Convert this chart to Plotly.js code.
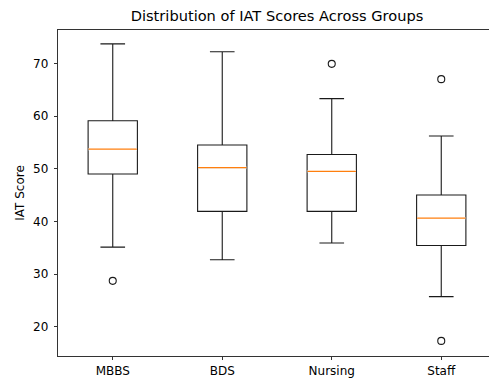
<!DOCTYPE html>
<html>
<head>
<meta charset="utf-8">
<script src="https://cdn.plot.ly/plotly-3.0.1.min.js"></script>
<style>
html, body { margin: 0; padding: 0; overflow: hidden; background: #fff; }
#chart { width: 497px; height: 380px; }
</style>
</head>
<body>
<div id="chart"></div>
<script>
// Data
const groups = ["MBBS", "BDS", "Nursing", "Staff"];
const lowerWhisker = [35.1, 32.7, 35.9, 25.7];
const q1Values = [49.0, 41.9, 41.9, 35.4];
const medianValues = [53.7, 50.2, 49.5, 40.6];
const q3Values = [59.1, 54.5, 52.7, 45.0];
const upperWhisker = [73.7, 72.2, 63.3, 56.2];
const outlierGroup = ["MBBS", "Nursing", "Staff", "Staff"];
const outlierValues = [28.7, 69.9, 67.0, 17.3];

const positions = groups.map((g, i) => i + 1);
const boxWidth = 0.45;

const boxTrace = {
  type: "box",
  x: positions,
  q1: q1Values,
  median: medianValues,
  q3: q3Values,
  lowerfence: lowerWhisker,
  upperfence: upperWhisker,
  width: boxWidth,
  whiskerwidth: 0.5,
  boxpoints: false,
  fillcolor: "rgba(255,255,255,0)",
  line: { color: "#1a1a1a", width: 1.1 },
  hoverinfo: "skip",
  showlegend: false
};

const medX = [], medY = [];
positions.forEach((p, i) => {
  medX.push(p - boxWidth / 2 + 0.004, p + boxWidth / 2 - 0.004, null);
  medY.push(medianValues[i], medianValues[i], null);
});
const medianMask = {
  type: "scatter",
  mode: "lines",
  x: medX,
  y: medY,
  line: { color: "#ffffff", width: 2.4 },
  hoverinfo: "skip",
  showlegend: false
};
const medianTrace = {
  type: "scatter",
  mode: "lines",
  x: medX,
  y: medY,
  line: { color: "#ff7f0e", width: 1.2 },
  hoverinfo: "skip",
  showlegend: false
};

const outlierTrace = {
  type: "scatter",
  mode: "markers",
  x: outlierGroup.map(g => groups.indexOf(g) + 1),
  y: outlierValues,
  marker: { symbol: "circle-open", size: 7, color: "#1a1a1a", line: { width: 1.1, color: "#1a1a1a" } },
  hoverinfo: "skip",
  showlegend: false
};

const font = "DejaVu Sans, sans-serif";
const layout = {
  width: 497,
  height: 380,
  margin: { l: 57.5, r: 1, t: 30, b: 24 },
  paper_bgcolor: "#ffffff",
  plot_bgcolor: "#ffffff",
  font: { family: font, size: 12, color: "#000000" },
  title: {
    text: "Distribution of IAT Scores Across Groups",
    font: { family: font, size: 14.6, color: "#000000" },
    x: 0.5, xref: "paper",
    y: 1 - 16 / 380, yref: "container", yanchor: "middle"
  },
  xaxis: {
    range: [0.5, 4.5],
    tickvals: positions,
    ticktext: groups,
    ticks: "outside", ticklen: 3.5, tickwidth: 0.8, tickcolor: "#000",
    showline: true, mirror: true, linecolor: "#000", linewidth: 0.8,
    showgrid: false, zeroline: false,
    tickfont: { family: font, size: 12, color: "#000" }
  },
  yaxis: {
    range: [14.43, 76.33],
    tickvals: [20, 30, 40, 50, 60, 70],
    ticks: "outside", ticklen: 3.5, tickwidth: 0.8, tickcolor: "#000",
    showline: true, mirror: true, linecolor: "#000", linewidth: 0.8,
    showgrid: false, zeroline: false,
    tickfont: { family: font, size: 12, color: "#000" },
    ticklabelstandoff: 3,
    title: { text: "IAT Score", font: { family: font, size: 12, color: "#000" }, standoff: 5 }
  },
  showlegend: false
};

Plotly.newPlot("chart", [boxTrace, medianMask, medianTrace, outlierTrace], layout, { staticPlot: true, displayModeBar: false });
</script>
</body>
</html>
